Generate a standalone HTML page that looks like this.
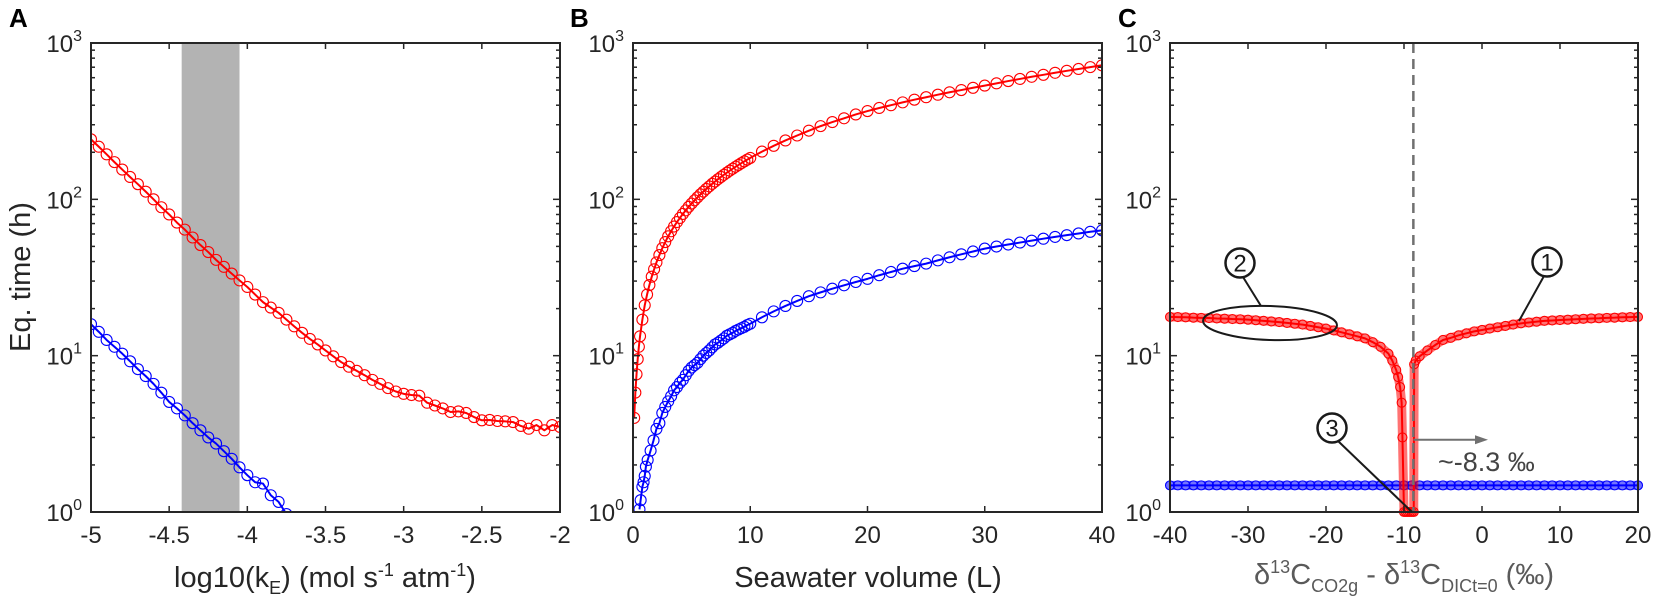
<!DOCTYPE html>
<html><head><meta charset="utf-8"><title>Equilibration time panels</title>
<style>
html,body{margin:0;padding:0;background:#fff;}
svg{display:block;font-family:"Liberation Sans",Arial,sans-serif;}
</style></head>
<body>
<svg id="fig" width="1654" height="596" viewBox="0 0 1654 596" xmlns="http://www.w3.org/2000/svg"></svg>
<script>
// ---------- Panel A data ----------
const aX = [-5.00,-4.95,-4.90,-4.85,-4.80,-4.75,-4.70,-4.65,-4.60,-4.55,-4.50,-4.45,-4.40,-4.35,-4.30,-4.25,-4.20,-4.15,-4.10,-4.05,-4.00,-3.95,-3.90,-3.85,-3.80,-3.75,-3.70,-3.65,-3.60,-3.55,-3.50,-3.45,-3.40,-3.35,-3.30,-3.25,-3.20,-3.15,-3.10,-3.05,-3.00,-2.95,-2.90,-2.85,-2.80,-2.75,-2.70,-2.65,-2.60,-2.55,-2.50,-2.45,-2.40,-2.35,-2.30,-2.25,-2.20,-2.15,-2.10,-2.05,-2.00];
const aRed = [242,217,194,173,155,139,125,112,100,89,80,71,64,57,51,46,41,37,33.5,30.3,27.5,24.6,22,20.3,18.8,17,15.4,14,12.8,11.8,10.8,9.9,9.1,8.5,8.0,7.5,7.0,6.6,6.2,5.9,5.7,5.6,5.55,5.0,4.8,4.6,4.36,4.4,4.3,4.05,3.86,3.88,3.82,3.8,3.76,3.55,3.41,3.6,3.33,3.6,3.5];
const aBlueX = [-5.00,-4.95,-4.90,-4.85,-4.80,-4.75,-4.70,-4.65,-4.60,-4.55,-4.50,-4.45,-4.40,-4.35,-4.30,-4.25,-4.20,-4.15,-4.10,-4.05,-4.00,-3.95,-3.90,-3.85,-3.80,-3.75];
const aBlue = [15.9,14.2,12.6,11.4,10.3,9.2,8.2,7.4,6.6,5.8,5.06,4.6,4.15,3.7,3.33,3.0,2.74,2.45,2.19,1.93,1.72,1.55,1.52,1.28,1.16,0.97];
const aBand = [-4.42,-4.05];
const aXTicks = [-5,-4.5,-4,-3.5,-3,-2.5,-2];
const aXTickLabels = ["-5","-4.5","-4","-3.5","-3","-2.5","-2"];

// ---------- Panel B data ----------
const bRedX = [0.1,0.2,0.3,0.4,0.5,0.6,0.8,1,1.2,1.4,1.6,1.8,2,2.25,2.5,2.75,3,3.25,3.5,3.75,4,4.25,4.5,4.75,5,5.25,5.5,5.75,6,6.25,6.5,6.75,7,7.25,7.5,7.75,8,8.25,8.5,8.75,9,9.25,9.5,9.75,10,11,12,13,14,15,16,17,18,19,20,21,22,23,24,25,26,27,28,29,30,31,32,33,34,35,36,37,38,39,40];
const bRed = [4.0,5.8,7.6,9.5,11.4,13.3,17,21,24.6,28.3,32,35.7,39.5,44,48.7,53.3,58,62.5,67,71.6,76,80.6,85,89.6,94,98.6,103,107.6,112,116.6,121,125.6,130,134.6,139,143.6,148,152.6,157,161.6,166,170.6,175,179.6,184,202,220,238,256,275,294,312,330,349,367,384,400,417,434,450,467,484,500,517,534,552,571,589,608,626,645,664,682,701,720];
const bBlueX = [0.55,0.65,0.8,0.9,1.0,1.1,1.25,1.5,1.75,2,2.25,2.5,2.75,3,3.25,3.5,3.75,4,4.25,4.5,4.75,5,5.25,5.5,5.75,6,6.25,6.5,6.75,7,7.25,7.5,7.75,8,8.25,8.5,8.75,9,9.25,9.5,9.75,10,11,12,13,14,15,16,17,18,19,20,21,22,23,24,25,26,27,28,29,30,31,32,33,34,35,36,37,38,39,40];
const bBlue = [1.04,1.19,1.45,1.55,1.7,1.95,2.15,2.47,2.87,3.4,3.7,4.3,4.7,5.1,5.5,6.0,6.3,6.7,7.0,7.5,8.0,8.4,8.7,9.0,9.5,10.0,10.4,10.8,11.3,11.8,12.1,12.5,12.9,13.4,13.7,14.0,14.4,14.7,15.0,15.3,15.7,16.0,17.6,19.2,20.8,22.4,24,25.4,26.8,28.2,29.6,31,32.7,34.3,36,37.4,38.8,40.7,42.6,44.5,46.4,48.4,49.9,51.4,52.9,54.4,56,57.5,59,60.5,62,63.3];
const bXTicks = [0,10,20,30,40];
const bXTickLabels = ["0","10","20","30","40"];

// ---------- Panel C data ----------
const cRedX = [-40,-39,-38,-37,-36,-35,-34,-33,-32,-31,-30,-29,-28,-27,-26,-25,-24,-23,-22,-21,-20,-19,-18,-17,-16,-15,-14,-13,-12,-11.5,-11,-10.75,-10.5,-10.3,-10.2,-10,-9.75,-9.5,-9.25,-9,-8.75,-8.7,-8.5,-8,-7,-6,-5,-4,-3,-2,-1,0,1,2,3,4,5,6,7,8,9,10,11,12,13,14,15,16,17,18,19,20];
const cRed = [17.7,17.65,17.6,17.5,17.45,17.4,17.3,17.25,17.15,17.1,17.0,16.85,16.7,16.55,16.4,16.2,16.0,15.8,15.5,15.2,14.9,14.5,14.1,13.7,13.3,12.9,12.2,11.4,10.3,9.3,8.1,7.3,6.3,5.0,3.0,1.0,1.0,1.0,1.0,1.0,1.0,8.8,9.3,9.9,10.8,11.7,12.6,13.0,13.5,13.9,14.3,14.6,14.9,15.2,15.5,15.8,16.1,16.3,16.5,16.7,16.8,16.9,17.0,17.1,17.2,17.3,17.35,17.45,17.5,17.6,17.65,17.7];
const cBlueX = [-40,-39,-38,-37,-36,-35,-34,-33,-32,-31,-30,-29,-28,-27,-26,-25,-24,-23,-22,-21,-20,-19,-18,-17,-16,-15,-14,-13,-12,-11,-10,-9,-8,-7,-6,-5,-4,-3,-2,-1,0,1,2,3,4,5,6,7,8,9,10,11,12,13,14,15,16,17,18,19,20];
const cBlue = [1.48,1.48,1.48,1.48,1.48,1.48,1.48,1.48,1.48,1.48,1.48,1.48,1.48,1.48,1.48,1.48,1.48,1.48,1.48,1.48,1.48,1.48,1.48,1.48,1.48,1.48,1.48,1.48,1.48,1.48,1.48,1.48,1.48,1.48,1.48,1.48,1.48,1.48,1.48,1.48,1.48,1.48,1.48,1.48,1.48,1.48,1.48,1.48,1.48,1.48,1.48,1.48,1.48,1.48,1.48,1.48,1.48,1.48,1.48,1.48,1.48];
const cThreshold = [-8.8];
const cXTicks = [-40,-30,-20,-10,0,10,20];
const cXTickLabels = ["-40","-30","-20","-10","0","10","20"];

const yDecades = [1,10,100,1000];
const yTickExp = ["0","1","2","3"];

// ---------- drawing ----------
const NS = "http://www.w3.org/2000/svg";
const svg = document.getElementById('fig');
const AX = "#262626";
function mk(tag, attrs, parent){
  const e = document.createElementNS(NS, tag);
  for (const k in attrs) e.setAttribute(k, attrs[k]);
  (parent||svg).appendChild(e);
  return e;
}
const TOP = 43, BOT = 512;
function makeAxes(x0, x1, xmin, xmax){
  return {
    sx: v => x0 + (v - xmin) / (xmax - xmin) * (x1 - x0),
    sy: v => BOT - Math.log10(v) / 3 * (BOT - TOP),
    x0, x1
  };
}
function drawFrame(g, ax, xticks, xlabels, name){
  const fr = mk('rect', {x:ax.x0, y:TOP, width:ax.x1-ax.x0, height:BOT-TOP, fill:'none', stroke:AX, 'stroke-width':2}, g);
  
  
  for (let d = 0; d < 3; d++){
    for (let m = 1; m <= 9; m++){
      const v = Math.pow(10, d) * m;
      const y = ax.sy(v);
      const len = m === 1 ? 7 : 4;
      mk('line', {x1:ax.x0, x2:ax.x0+len, y1:y, y2:y, stroke:AX, 'stroke-width':1.5}, g);
      mk('line', {x1:ax.x1, x2:ax.x1-len, y1:y, y2:y, stroke:AX, 'stroke-width':1.5}, g);
    }
  }
  yDecades.forEach((v, i) => {
    const y = ax.sy(v);
    const t = mk('text', {x:ax.x0-9, y:y+9, 'text-anchor':'end', 'font-size':24, fill:AX}, g);
    
    
    t.textContent = '10';
    const s = mk('tspan', {dy:-11, 'font-size':16}, t);
    s.textContent = yTickExp[i];
  });
  xticks.forEach((v, i) => {
    const x = ax.sx(v);
    mk('line', {x1:x, x2:x, y1:BOT, y2:BOT-6, stroke:AX, 'stroke-width':1.5}, g);
    mk('line', {x1:x, x2:x, y1:TOP, y2:TOP+6, stroke:AX, 'stroke-width':1.5}, g);
    const t = mk('text', {x:x, y:543, 'text-anchor':'middle', 'font-size':24, fill:AX}, g);
    
    
    t.textContent = xlabels[i];
  });
}
function drawSeries(g, ax, xs, ys, color, r, name, band){
  const pts = xs.map((x, i) => ax.sx(x).toFixed(2) + ',' + ax.sy(ys[i]).toFixed(2)).join(' ');
  if (band){
    const b = mk('polyline', {points:pts, fill:'none', stroke:color, 'stroke-width':band, 'stroke-opacity':0.55, 'stroke-linejoin':'round', 'stroke-linecap':'round'}, g);
    
    
  }
  const l = mk('polyline', {points:pts, fill:'none', stroke:color, 'stroke-width':2, 'stroke-linejoin':'round'}, g);
  
  
  xs.forEach((x, i) => {
    const c = mk('circle', {cx:ax.sx(x), cy:ax.sy(ys[i]), r:r, fill:'none', stroke:color, 'stroke-width':1.1}, g);
    
    
  });
}
function panelLetter(x, ch){
  const t = mk('text', {x:x, y:27, 'font-size':26, 'font-weight':'bold', fill:'#000'});
  
  
  t.textContent = ch;
}
const defs = mk('defs', {});
function clip(id, ax){
  const cp = mk('clipPath', {id:id}, defs);
  mk('rect', {x:ax.x0, y:TOP, width:ax.x1-ax.x0, height:BOT-TOP}, cp);
}

// Panel A
const axA = makeAxes(91, 560, -5, -2);
const gA = mk('g', {});


clip('clipA', axA);
const band = mk('rect', {x:axA.sx(aBand[0]), y:TOP, width:axA.sx(aBand[1])-axA.sx(aBand[0]), height:BOT-TOP, fill:'#b3b3b3'}, gA);


const gAd = mk('g', {'clip-path':'url(#clipA)'}, gA);
drawSeries(gAd, axA, aX, aRed, '#ff0000', 5.5, 'a-red-series');
drawSeries(gAd, axA, aBlueX, aBlue, '#0000ff', 5.5, 'a-blue-series');
drawFrame(gA, axA, aXTicks, aXTickLabels, 'a');
panelLetter(9, 'A');
{
  const t = mk('text', {x:30, y:277, 'text-anchor':'middle', 'font-size':29, fill:AX, transform:'rotate(-90 30 277)'});
  
  
  t.textContent = 'Eq. time (h)';
  const xt = mk('text', {x:325, y:587, 'text-anchor':'middle', 'font-size':29, fill:AX});
  
  
  xt.innerHTML = 'log10(k<tspan font-size="18" dy="7">E</tspan><tspan dy="-7">) (mol s</tspan><tspan font-size="18" dy="-11">-1</tspan><tspan dy="11"> atm</tspan><tspan font-size="18" dy="-11">-1</tspan><tspan dy="11">)</tspan>';
}

// Panel B
const axB = makeAxes(633, 1102, 0, 40);
const gB = mk('g', {});


clip('clipB', axB);
const gBd = mk('g', {'clip-path':'url(#clipB)'}, gB);
drawSeries(gBd, axB, bRedX, bRed, '#ff0000', 5.5, 'b-red-series');
drawSeries(gBd, axB, bBlueX, bBlue, '#0000ff', 5.5, 'b-blue-series');
drawFrame(gB, axB, bXTicks, bXTickLabels, 'b');
panelLetter(570, 'B');
{
  const xt = mk('text', {x:868, y:587, 'text-anchor':'middle', 'font-size':29, fill:AX});
  
  
  xt.textContent = 'Seawater volume (L)';
}

// Panel C
const axC = makeAxes(1170, 1638, -40, 20);
const gC = mk('g', {});


clip('clipC', axC);
const gCd = mk('g', {}, gC);
drawSeries(gCd, axC, cBlueX, cBlue, '#0000ff', 4.5, 'c-blue-series', 9);
drawSeries(gCd, axC, cRedX, cRed, '#ff0000', 4.5, 'c-red-series', 9);
{
  const dx = axC.sx(cThreshold[0]);
  const dl = mk('line', {x1:dx, x2:dx, y1:TOP, y2:BOT, stroke:'#707070', 'stroke-width':2.5, 'stroke-dasharray':'10,6'}, gC);
  
  
  const ay = axC.sy(2.9);
  const ar = mk('line', {x1:dx, x2:1478, y1:ay, y2:ay, stroke:'#707070', 'stroke-width':2}, gC);
  
  
  mk('polygon', {points:`1488,${ay} 1475,${ay-4.5} 1475,${ay+4.5}`, fill:'#707070'}, gC);
  const at = mk('text', {x:1438, y:471, 'font-size':27, fill:'#444'}, gC);
  
  
  at.textContent = '~-8.3 ‰';
}
drawFrame(gC, axC, cXTicks, cXTickLabels, 'c');
panelLetter(1118, 'C');
function callout(cx, cy, num, lx1, ly1, lx2, ly2, name){
  const l = mk('line', {x1:lx1, y1:ly1, x2:lx2, y2:ly2, stroke:'#1a1a1a', 'stroke-width':2}, gC);
  
  
  const c = mk('circle', {cx:cx, cy:cy, r:14.5, fill:'#fff', stroke:'#1a1a1a', 'stroke-width':2.5}, gC);
  
  
  const t = mk('text', {x:cx, y:cy+8.5, 'text-anchor':'middle', 'font-size':24, fill:'#1a1a1a'}, gC);
  
  
  t.textContent = num;
}
{
  const el = mk('ellipse', {cx:1270, cy:323, rx:67, ry:17, fill:'none', stroke:'#1a1a1a', 'stroke-width':2, transform:'rotate(2 1270 323)'}, gC);
  
  
}
callout(1547, 262, '1', 1544, 276, 1519, 321, 'callout-1');
callout(1240, 263, '2', 1243, 277, 1261, 306, 'callout-2');
callout(1332, 428, '3', 1338, 441, 1412, 512, 'callout-3');
{
  const xt = mk('text', {x:1404, y:584, 'text-anchor':'middle', 'font-size':29, fill:'#5a5a5a'});
  
  
  xt.innerHTML = 'δ<tspan font-size="18" dy="-11">13</tspan><tspan dy="11">C</tspan><tspan font-size="18" dy="8">CO2g</tspan><tspan dy="-8"> - δ</tspan><tspan font-size="18" dy="-11">13</tspan><tspan dy="11">C</tspan><tspan font-size="18" dy="8">DICt=0</tspan><tspan dy="-8"> (‰)</tspan>';
}
</script>
</body></html>
